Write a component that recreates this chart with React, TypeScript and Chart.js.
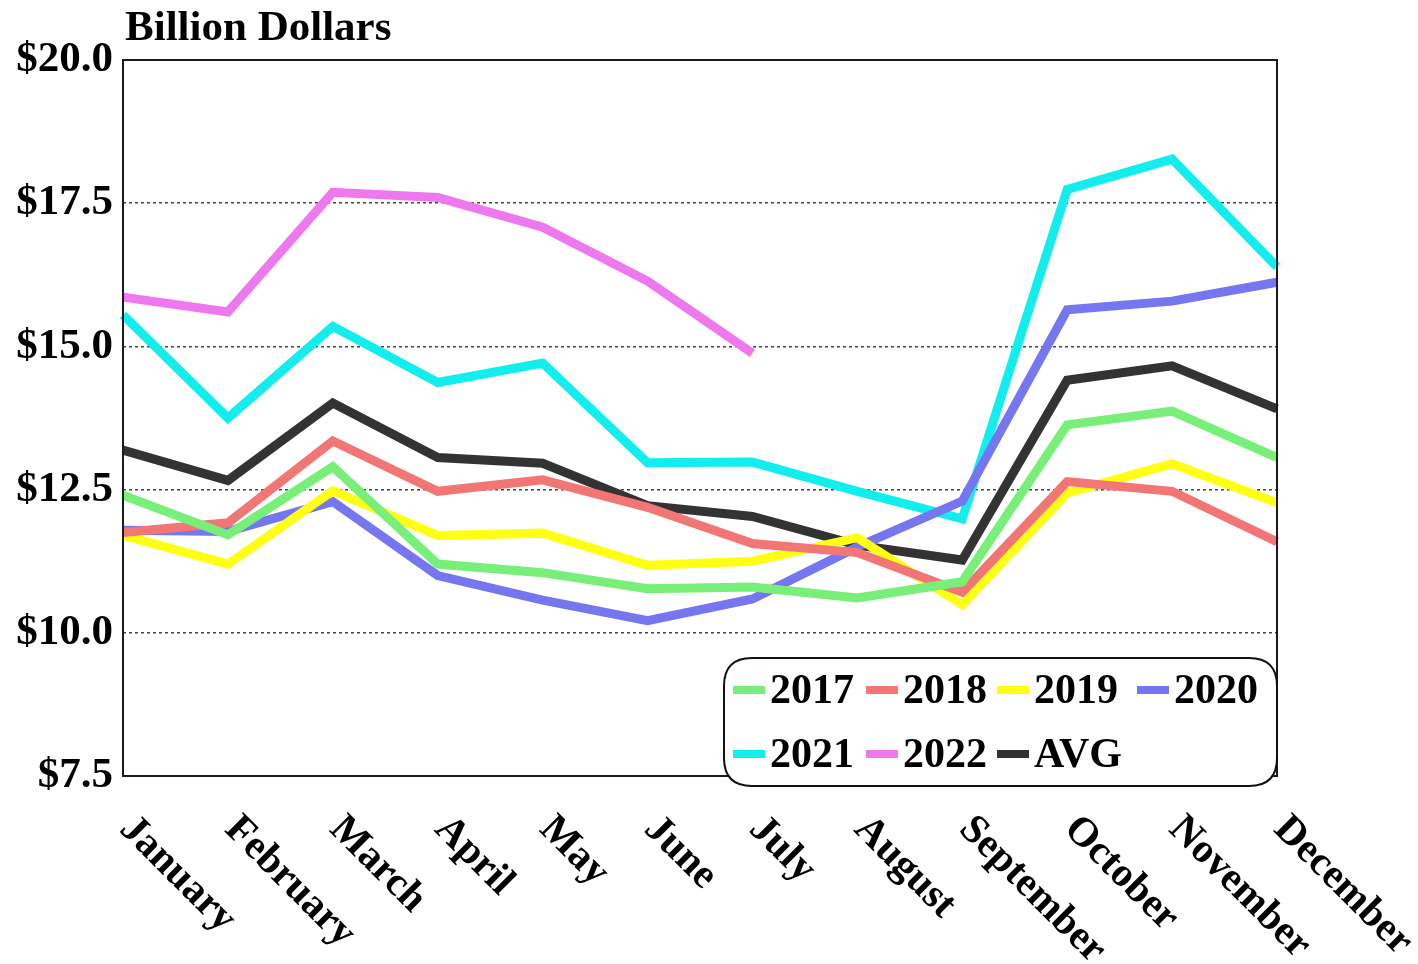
import React, { useEffect, useRef } from "react";
import { Chart, registerables } from "chart.js";

Chart.register(...registerables);

const months = ["January", "February", "March", "April", "May", "June", "July", "August", "September", "October", "November", "December"];
const s2017 = [12.40, 11.71, 12.90, 11.20, 11.05, 10.77, 10.80, 10.61, 10.89, 13.63, 13.87, 13.06];
const s2018 = [11.75, 11.92, 13.35, 12.47, 12.67, 12.19, 11.56, 11.40, 10.71, 12.64, 12.47, 11.59];
const s2019 = [11.70, 11.20, 12.48, 11.70, 11.74, 11.18, 11.25, 11.66, 10.49, 12.44, 12.95, 12.27];
const s2020 = [11.79, 11.77, 12.29, 11.00, 10.57, 10.21, 10.59, 11.50, 12.30, 15.64, 15.79, 16.12];
const s2021 = [15.55, 13.75, 15.35, 14.37, 14.71, 12.97, 12.98, 12.47, 11.99, 17.74, 18.27, 16.39];
const s2022 = [15.86, 15.60, 17.69, 17.60, 17.08, 16.14, 14.88, null, null, null, null, null];
const avg = [13.19, 12.66, 14.01, 13.06, 12.96, 12.22, 12.03, 11.53, 11.27, 14.41, 14.66, 13.91];

const seriesLabels = ["2017", "2018", "2019", "2020", "2021", "2022", "AVG"];
const seriesColors = ["#78ef78", "#f27676", "#ffff14", "#7676f0", "#12eeee", "#ee78ee", "#333333"];
const seriesData = [s2017, s2018, s2019, s2020, s2021, s2022, avg];

const yTicks = [7.5, 10, 12.5, 15, 17.5, 20];
const titleText = "Billion Dollars";

const FONT = "'Liberation Serif', 'Times New Roman', serif";

const decorPlugin = {
  id: "decor",
  afterDraw(chart: any) {
    const { ctx, chartArea } = chart;
    const { left, right, top, bottom } = chartArea;
    ctx.save();
    // frame
    ctx.strokeStyle = "#1a1a1a";
    ctx.lineWidth = 2;
    ctx.setLineDash([]);
    ctx.strokeRect(left, top, right - left, bottom - top);

    // title
    ctx.fillStyle = "#000";
    ctx.font = `bold 43px ${FONT}`;
    ctx.textAlign = "left";
    ctx.textBaseline = "alphabetic";
    ctx.fillText(titleText, 125, 40);

    // x labels, rotated clockwise
    const xs = chart.scales.x;
    ctx.font = `bold 41px ${FONT}`;
    ctx.textBaseline = "middle";
    months.forEach((m, i) => {
      const px = xs.getPixelForValue(i);
      ctx.save();
      ctx.translate(px + 3, bottom + 47);
      ctx.rotate(Math.PI / 4);
      ctx.fillText(m, 0, 0);
      ctx.restore();
    });

    // legend
    const bx = 724, by = 658, bw = right - 724, bh = 128, r = 28;
    ctx.beginPath();
    ctx.moveTo(bx + r, by);
    ctx.lineTo(bx + bw - r, by);
    ctx.quadraticCurveTo(bx + bw, by, bx + bw, by + r);
    ctx.lineTo(bx + bw, by + bh - r);
    ctx.quadraticCurveTo(bx + bw, by + bh, bx + bw - r, by + bh);
    ctx.lineTo(bx + r, by + bh);
    ctx.quadraticCurveTo(bx, by + bh, bx, by + bh - r);
    ctx.lineTo(bx, by + r);
    ctx.quadraticCurveTo(bx, by, bx + r, by);
    ctx.closePath();
    ctx.fillStyle = "#fff";
    ctx.fill();
    ctx.strokeStyle = "#111";
    ctx.lineWidth = 2;
    ctx.stroke();

    const cols = [733, 866, 997, 1137];
    const rows = [690, 754];
    ctx.font = `bold 42px ${FONT}`;
    ctx.textBaseline = "middle";
    ctx.textAlign = "left";
    chart.data.datasets.forEach((ds: any, i: number) => {
      const c = cols[i % 4];
      const rr = rows[Math.floor(i / 4)];
      ctx.strokeStyle = ds.borderColor;
      ctx.lineWidth = 8;
      ctx.beginPath();
      ctx.moveTo(c, rr);
      ctx.lineTo(c + 32, rr);
      ctx.stroke();
      ctx.fillStyle = "#000";
      ctx.fillText(ds.label, c + 37, rr + 2);
    });
    ctx.restore();
  },
};

export default function App() {
  const ref = useRef<HTMLCanvasElement>(null);
  useEffect(() => {
    if (!ref.current) return;
    const chart = new Chart(ref.current, {
      type: "line",
      data: {
        labels: months,
        datasets: seriesData.map((d, i) => ({
          label: seriesLabels[i],
          data: d,
          borderColor: seriesColors[i],
          backgroundColor: seriesColors[i],
          borderWidth: 9,
          pointRadius: 0,
          tension: 0,
          borderJoinStyle: "miter" as const,
          fill: false,
        })),
      },
      options: {
        animation: false,
        responsive: false,
        devicePixelRatio: 1,
        layout: { padding: { left: 0, top: 60, right: 141, bottom: 188 } },
        plugins: { legend: { display: false }, title: { display: false }, tooltip: { enabled: false } },
        scales: {
          x: { type: "category", display: false, offset: false },
          y: {
            min: 7.5,
            max: 20,
            afterFit(scale: any) {
              scale.width = 123;
            },
            afterBuildTicks(scale: any) {
              scale.ticks = yTicks.map((v) => ({ value: v }));
            },
            ticks: {
              padding: 10,
              color: "#000",
              font: { family: FONT, size: 43, weight: "bold" },
              callback: (v: any) => "$" + Number(v).toFixed(1),
            },
            grid: {
              drawTicks: false,
              lineWidth: 1.5,
              color: (c: any) => (c.tick && (c.tick.value === 20 || c.tick.value === 7.5) ? "rgba(0,0,0,0)" : "#444"),
            },
            border: { display: false, dash: [3, 3] },
          },
        },
      },
      plugins: [decorPlugin],
    });
    return () => chart.destroy();
  }, []);
  return (
    <div style={{ position: "absolute", left: 0, top: 0, width: 1418, height: 964, background: "#fff" }}>
      <canvas ref={ref} width={1418} height={964} style={{ display: "block" }} />
    </div>
  );
}
